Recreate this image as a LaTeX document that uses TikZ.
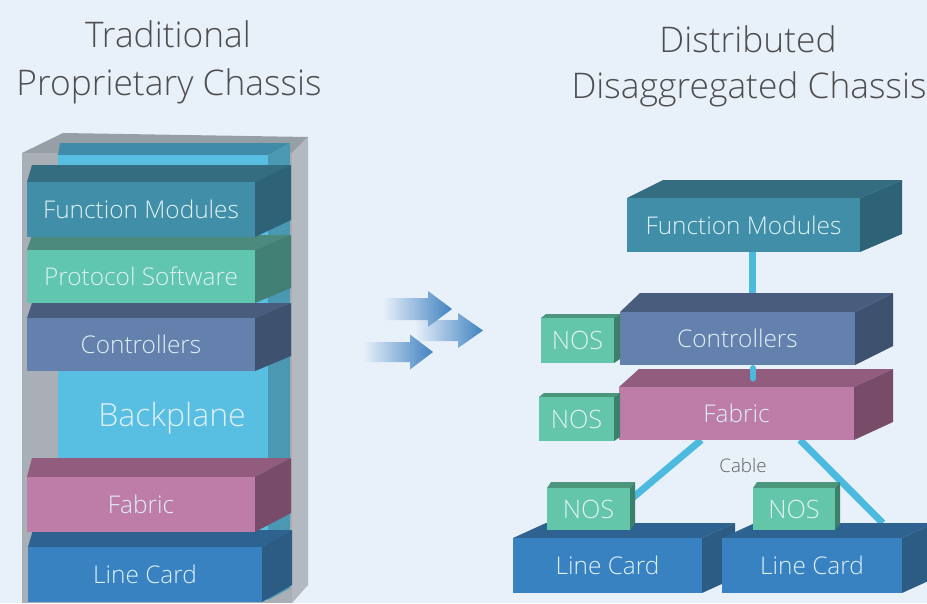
\documentclass[tikz,border=0pt]{standalone}
\usepackage{fontspec}
\setmainfont{Open Sans Light}
\usetikzlibrary{calc}

% palette
\definecolor{bgc}{RGB}{232,240,250}
\definecolor{fmfront}{RGB}{64,142,168}
\definecolor{fmtop}{RGB}{52,108,128}
\definecolor{fmside}{RGB}{46,98,118}
\definecolor{psfront}{RGB}{96,198,176}
\definecolor{pstop}{RGB}{76,138,126}
\definecolor{psside}{RGB}{66,128,118}
\definecolor{ctfront}{RGB}{100,128,172}
\definecolor{cttop}{RGB}{72,92,126}
\definecolor{ctside}{RGB}{62,82,112}
\definecolor{bpfront}{RGB}{88,190,226}
\definecolor{bptop}{RGB}{64,140,168}
\definecolor{bpside}{RGB}{74,152,178}
\definecolor{fbfront}{RGB}{190,124,168}
\definecolor{fbtop}{RGB}{146,92,126}
\definecolor{fbside}{RGB}{120,76,104}
\definecolor{lcfront}{RGB}{56,130,194}
\definecolor{lctop}{RGB}{46,98,144}
\definecolor{lcside}{RGB}{44,92,132}
\definecolor{nosfront}{RGB}{100,198,168}
\definecolor{nostop}{RGB}{76,150,126}
\definecolor{nosside}{RGB}{60,128,108}
\definecolor{labeltext}{RGB}{222,240,246}
\definecolor{titletext}{RGB}{78,78,78}
\definecolor{cabletext}{RGB}{96,96,96}
\definecolor{cablec}{RGB}{76,186,222}
\definecolor{greyfront}{RGB}{168,175,182}
\definecolor{greytop}{RGB}{150,158,166}
\definecolor{greyside}{RGB}{178,185,192}
\definecolor{arrowtip}{RGB}{64,130,192}
\definecolor{arrowmid}{RGB}{138,184,190}

\pgfdeclarelayer{backdrop}
\pgfdeclarelayer{wires}
\pgfsetlayers{backdrop,wires,main}

\tikzset{
  slabface/.style={inner sep=0pt,outer sep=0pt,text=labeltext,
    font=\fontsize{18.3}{20}\selectfont},
  noslabel/.style={font=\fontsize{19}{21}\selectfont},
  fmlabel/.style={}, pslabel/.style={}, ctlabel/.style={},
  fblabel/.style={}, lclabel/.style={}, bplabel/.style={},
  bigtext/.style={inner sep=0pt,text=labeltext,font=\fontsize{24}{26}\selectfont},
  title/.style={inner sep=0pt,text=titletext,font=\fontsize{26.5}{29}\selectfont,anchor=base},
  cablelabel/.style={inner sep=0pt,text=cabletext,font=\fontsize{14}{16}\selectfont},
  cable/.style={draw=cablec,line width=5.2pt},
  flow/.style={left color=bgc,middle color=arrowmid,right color=arrowtip},
}

% box with front face, top face and right face
% #1 colour set, #2 name, #3-#6 front corners, #7 left depth, #8 right depth, #9 rise
\newcommand\slab[9]{%
  \fill[#1top] (#3,#4) -- ({#3+(#7)},{#4+(#9)}) -- ({#5+(#8)},{#4+(#9)}) -- (#5,#4) -- cycle;
  \fill[#1side] (#5,#4) -- ({#5+(#8)},{#4+(#9)}) -- ({#5+(#8)},{#6+(#9)}) -- (#5,#6) -- cycle;
  \coordinate (#2-bl) at ({#3+(#7)},{#4+(#9)});
  \coordinate (#2-br) at ({#5+(#8)},{#4+(#9)});
  \node[slabface,#1label,fill=#1front,minimum width={(#5-(#3))*0.75pt},
    minimum height={(#6-(#4))*0.75pt}] (#2) at ({(#3+#5)/2},{(#4+#6)/2})}

% shaded block arrow: tail x, head x, tip x, centre y, half body, half head
\newcommand\flowarrow[6]{%
  \path[flow] (#1,{#4-(#5)}) -- (#2,{#4-(#5)}) -- (#2,{#4-(#6)}) -- (#3,#4)
    -- (#2,{#4+(#6)}) -- (#2,{#4+(#5)}) -- (#1,{#4+(#5)}) -- cycle;}

\begin{document}
\begin{tikzpicture}[x=0.75pt,y=-0.75pt]
\useasboundingbox (0,0) rectangle (927,603);
\begin{pgfonlayer}{backdrop}
  \fill[bgc] (0,0) rectangle (927,603);
\end{pgfonlayer}

% titles
\node[title] (titleL1) at (168,47) {Traditional};
\node[title] (titleL2) at (169,95) {Proprietary Chassis};
\node[title] (titleR1) at (748,52) {Distributed};
\node[title] (titleR2) at (749,98) {Disaggregated Chassis};

% ---- traditional chassis ----
\fill[greytop] (22,153) -- (63,133) -- (308,137) -- (292,153) -- cycle;
\fill[greyside] (292,153) -- (308,137) -- (308,585) -- (292,603) -- cycle;
\fill[greyfront] (22,153) rectangle (292,603);

\slab{bp}{bpL}{58}{155}{268}{600}{2}{22}{-12}{};
\node[bigtext] (bpLtext) at (172,418) {Backplane};

\slab{lc}{lcL}{28}{547}{262}{602}{5}{30}{-17}{Line Card};
\slab{fb}{fbL}{27}{477}{255}{532}{5}{36}{-19}{Fabric};
\slab{ct}{ctL}{27}{318}{255}{371}{5}{36}{-15}{Controllers};
\slab{ps}{psL}{27}{250}{255}{303}{5}{36}{-15}{Protocol Software};
\slab{fm}{fmL}{27}{182}{255}{237}{5}{36}{-17}{Function Modules};

% ---- transition arrows ----
\flowarrow{415}{458}{483}{330.5}{10.5}{17.5}
\flowarrow{383}{428}{452}{309}{11}{18}
\flowarrow{363}{410}{433}{352}{10}{17.5}

% ---- disaggregated chassis ----
\slab{lc}{lcA}{513}{538}{702}{593}{33}{33}{-15}{Line Card};
\slab{lc}{lcB}{722}{538}{902}{593}{33}{33}{-15}{Line Card};
\slab{nos}{nosC}{547}{488}{630}{530}{4}{5}{-6}{NOS};
\slab{nos}{nosD}{753}{488}{835}{530}{4}{5}{-6}{NOS};
\slab{fb}{fbR}{619}{387}{854}{440}{20}{39}{-18}{Fabric};
\slab{nos}{nosB}{539}{397}{614}{441}{5}{6}{-4}{NOS};
\slab{ct}{ctR}{620}{312}{855}{365}{20}{38}{-19}{Controllers};
\slab{nos}{nosA}{541}{318}{614}{363}{5}{6}{-4}{NOS};
\slab{fm}{fmR}{627}{198}{860}{252}{36}{42}{-18}{Function Modules};

\node[cablelabel] (cableLbl) at (743,465) {Cable};

% cables running behind the boxes
\begin{pgfonlayer}{wires}
  \draw[cable] ([xshift=7pt]fmR.south) -- ([xshift=7pt]fmR.south |- ctR.north);
  \draw[cable] ($(fbR.south west)!0.35!(fbR.south east)$) -- ([yshift=-9pt]nosC.north east);
  \draw[cable] ($(fbR.south west)!0.77!(fbR.south east)$) -- ($(lcB-bl)!0.71!(lcB-br)$);
\end{pgfonlayer}
% short post between controllers and fabric
\draw[cable,line cap=round] ([xshift=11.6pt,yshift=-2.6pt]ctR.south) -- ([xshift=11.6pt,yshift=-9.8pt]ctR.south);
\end{tikzpicture}
\end{document}
